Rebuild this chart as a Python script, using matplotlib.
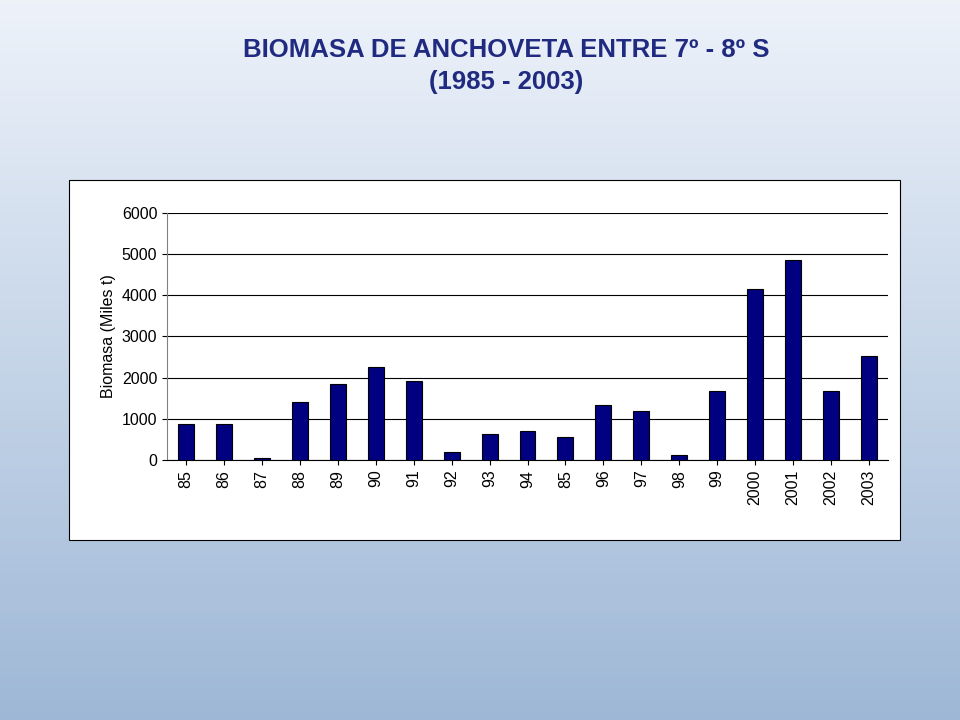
import numpy as np
import matplotlib
matplotlib.use("Agg")
import matplotlib.pyplot as plt
from matplotlib.patches import Rectangle

labels = ["85", "86", "87", "88", "89", "90", "91", "92", "93", "94", "85",
          "96", "97", "98", "99", "2000", "2001", "2002", "2003"]
biomasa = [875, 875, 50, 1410, 1850, 2260, 1920, 190, 630, 700, 560,
           1340, 1190, 120, 1680, 4150, 4860, 1680, 2530]
title_lines = ["BIOMASA DE ANCHOVETA ENTRE 7º - 8º S", "(1985 - 2003)"]

plt.rcParams["font.family"] = "Liberation Sans"
fig = plt.figure(figsize=(9.6, 7.2), dpi=100)

# sea-like background
bg = fig.add_axes([0, 0, 1, 1])
grad = np.linspace(0, 1, 200)[:, None]
top = np.array([0.93, 0.95, 0.98])
bottom = np.array([0.62, 0.72, 0.84])
img = top * (1 - grad[..., None]) + bottom * grad[..., None]
img = np.repeat(img, 2, axis=1)
bg.imshow(img, aspect="auto", extent=[0, 1, 0, 1])
bg.set_xlim(0, 1)
bg.set_ylim(0, 1)
bg.axis("off")
bg.add_patch(Rectangle((69 / 960, 1 - 540 / 720), 831 / 960, 360 / 720,
                       facecolor="white", edgecolor="black", lw=0.8))

fig.text(506 / 960, 1 - 50 / 720, title_lines[0], ha="center", va="center",
         fontsize=18.5, fontweight="bold", color="#1F2A80")
fig.text(506 / 960, 1 - 82 / 720, title_lines[1], ha="center", va="center",
         fontsize=18.5, fontweight="bold", color="#1F2A80")

ax = fig.add_axes([167 / 960, 1 - 460 / 720, 721 / 960, 247 / 720])
x = np.arange(len(labels))
ax.bar(x, biomasa, width=0.42, color="#000080", edgecolor="black", lw=0.8, zorder=3)
ax.set_xlim(-0.5, len(labels) - 0.5)
ax.set_ylim(0, 6000)
ax.set_yticks(range(0, 6001, 1000))
ax.yaxis.grid(True, color="black", lw=0.8, zorder=0)
ax.set_xticks(x)
ax.set_xticklabels(labels, rotation=90, fontsize=11.5)
ax.tick_params(axis="y", labelsize=11.5)
ax.set_ylabel("Biomasa (Miles t)", fontsize=11.5)
for s in ["top", "right"]:
    ax.spines[s].set_visible(False)
ax.spines["left"].set_color("#808080")

fig.savefig("out.png", dpi=100)
